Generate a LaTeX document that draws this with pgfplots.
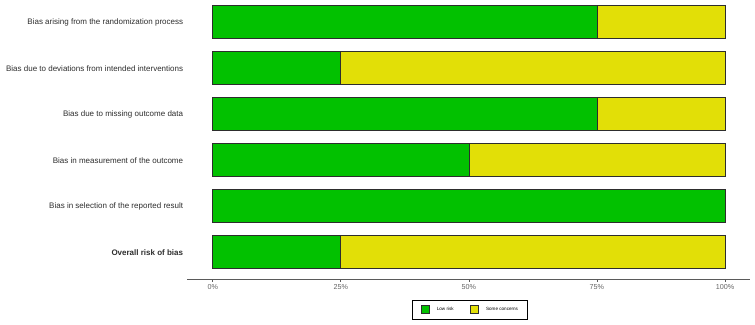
\documentclass[border=0pt]{standalone}
\usepackage{pgfplots}
\pgfplotsset{compat=1.18}
\usepackage{fontspec}
\setmainfont{Liberation Sans}
\definecolor{lowrisk}{RGB}{2,193,0}
\definecolor{some}{RGB}{226,223,7}
\definecolor{txt}{RGB}{45,45,45}
\definecolor{ticktxt}{RGB}{100,100,100}
\definecolor{axline}{RGB}{90,90,90}
\begin{document}
\begin{tikzpicture}
\path[use as bounding box] (-187.3pt,-44.5pt) rectangle (567.7pt,279.5pt);
\begin{axis}[
  at={(0pt,0pt)}, anchor=south west,
  scale only axis, width=562.7pt, height=279.5pt,
  xmin=-4.96, xmax=104.88, ymin=0.4065, ymax=6.4826,
  xbar stacked, bar width=32.7pt,
  axis x line*=bottom, axis y line*=left,
  y axis line style={draw=none},
  x axis line style={draw=axline, line width=0.9pt},
  ytick={1,2,3,4,5,6},
  yticklabels={\textbf{Overall risk of bias},Bias in selection of the reported result,Bias in measurement of the outcome,Bias due to missing outcome data,Bias due to deviations from intended interventions,Bias arising from the randomization process},
  ytick style={draw=none},
  yticklabel style={font=\fontsize{8.0}{9}\selectfont, text=txt, inner sep=0pt, xshift=-2pt},
  xtick={0,25,50,75,100},
  xticklabels={0\%,25\%,50\%,75\%,100\%},
  xtick style={draw=axline, line width=0.6pt},
  tick align=outside, major tick length=2pt,
  xticklabel style={font=\fontsize{7.2}{8}\selectfont, text=ticktxt, inner sep=0pt, yshift=-3pt},
  legend columns=2,
  legend style={at={(0.5015,-0.1073)}, anchor=center, draw=black, line width=0.6pt,
    font=\fontsize{4.6}{5}\selectfont, inner xsep=9pt, inner ysep=5.5pt,
    nodes={inner sep=0pt},
    /tikz/every odd column/.append style={column sep=7pt},
    /tikz/every even column/.append style={column sep=16.5pt}},
  legend cell align=left,
  legend image code/.code={\draw[#1, line width=0.6pt] (0pt,-3.8pt) rectangle (8.3pt,3.8pt);},
]
\addplot[fill=lowrisk, draw=txt, line width=0.7pt] coordinates {(25,1) (100,2) (50,3) (75,4) (25,5) (75,6)};
\addplot[fill=some, draw=txt, line width=0.7pt] coordinates {(75,1) (0,2) (50,3) (25,4) (75,5) (25,6)};
\legend{Low risk, Some concerns}
\end{axis}
\end{tikzpicture}
\end{document}
